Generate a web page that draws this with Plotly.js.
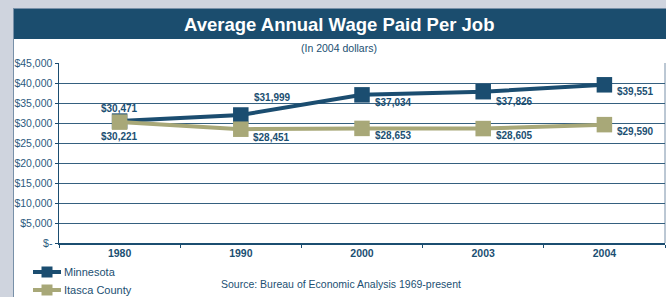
<!DOCTYPE html>
<html><head><meta charset="utf-8">
<script src="https://cdn.plot.ly/plotly-3.0.1.min.js"></script>
<style>html,body{margin:0;padding:0;background:#cfd4de;}#chart{width:666px;height:297px;}</style>
</head><body><div id="chart"></div>
<script>
var years = ["1980", "1990", "2000", "2003", "2004"];
var minnesota = [30471, 31999, 37034, 37826, 39551];
var itasca = [30221, 28451, 28653, 28605, 29590];
var seriesNames = ["Minnesota", "Itasca County"];
var yTickVals = [0, 5000, 10000, 15000, 20000, 25000, 30000, 35000, 40000, 45000];
var yTickText = ["$-", "$5,000", "$10,000", "$15,000", "$20,000", "$25,000", "$30,000", "$35,000", "$40,000", "$45,000"];
var titleText = "Average Annual Wage Paid Per Job";
var subtitleText = "(In 2004 dollars)";
var sourceText = "Source: Bureau of Economic Analysis 1969-present";

var DARK = "#1b4d70", OLIVE = "#a8a878", TXT = "#1b4f72";
var FONT = "Liberation Sans, Arial, sans-serif";
var COLORS = [DARK, OLIVE];
function fmt(v){ return "$" + v.toLocaleString("en-US"); }

// label offsets (pixels) per point
var mnOff = [[0, 13], [32, 18], [31, -8], [31, -10], [31, -7]];
var itOff = [[0, -14], [31, -8], [31, -7], [31, -7], [31, -7]];

var traces = [
  {x: years, y: minnesota, name: seriesNames[0], type: "scatter", mode: "lines+markers",
   line: {color: DARK, width: 4}, marker: {symbol: "square", size: 15.5, color: DARK}},
  {x: years, y: itasca, name: seriesNames[1], type: "scatter", mode: "lines+markers",
   line: {color: OLIVE, width: 4}, marker: {symbol: "square", size: 15.5, color: OLIVE}}
];

var ann = [];
function addLabels(vals, offs){
  vals.forEach(function(v, i){
    ann.push({x: i, y: v, xref: "x", yref: "y", text: fmt(v), showarrow: false,
      xshift: offs[i][0], yshift: offs[i][1],
      font: {family: FONT, size: 10, color: TXT, weight: "bold"}});
  });
}
addLabels(minnesota, mnOff);
addLabels(itasca, itOff);

function px(x){ return (x - 59) / 606; }
function py(y){ return (243 - y) / 180; }

ann.push({xref: "paper", yref: "paper", x: px(339), y: py(24), text: titleText, showarrow: false,
  xanchor: "center", yanchor: "middle", font: {family: FONT, size: 18.5, color: "#ffffff", weight: "bold"}});
ann.push({xref: "paper", yref: "paper", x: px(339), y: py(48), text: subtitleText, showarrow: false,
  xanchor: "center", yanchor: "middle", font: {family: FONT, size: 10.5, color: TXT}});
ann.push({xref: "paper", yref: "paper", x: px(341), y: py(284), text: sourceText, showarrow: false,
  xanchor: "center", yanchor: "middle", font: {family: FONT, size: 10.5, color: TXT}});

var shapes = [
  {type: "rect", xref: "paper", yref: "paper", x0: px(13), x1: px(667), y0: py(298), y1: py(9),
   fillcolor: "#ffffff", line: {width: 0}, layer: "below"},
  {type: "rect", xref: "paper", yref: "paper", x0: px(13), x1: px(667), y0: py(39), y1: py(9),
   fillcolor: "#1b4d6e", line: {width: 0}, layer: "below"},
  {type: "line", xref: "paper", yref: "paper", x0: px(13.5), x1: px(13.5), y0: py(298), y1: py(9),
   line: {color: "#7890a8", width: 1}, layer: "below"},
  {type: "line", xref: "paper", yref: "paper", x0: px(13), x1: px(667), y0: py(8.5), y1: py(8.5),
   line: {color: "#7890a8", width: 1}, layer: "below"},
  {type: "line", xref: "paper", yref: "paper", x0: 1, x1: 1, y0: 0, y1: 1,
   line: {color: "#7890a8", width: 1}, layer: "below"}
];

// custom legend
var legY = [272, 290];
seriesNames.forEach(function(name, k){
  shapes.push({type: "line", xref: "paper", yref: "paper", x0: px(33), x1: px(61), y0: py(legY[k]), y1: py(legY[k]),
    line: {color: COLORS[k], width: 4}});
  shapes.push({type: "rect", xref: "paper", yref: "paper", x0: px(41.5), x1: px(52.5), y0: py(legY[k] + 5.5), y1: py(legY[k] - 5.5),
    fillcolor: COLORS[k], line: {width: 0}});
  ann.push({xref: "paper", yref: "paper", x: px(62), y: py(legY[k]), text: name, showarrow: false,
    xanchor: "left", yanchor: "middle", font: {family: FONT, size: 11, color: TXT}});
});

var layout = {
  width: 666, height: 297,
  margin: {l: 59, r: 1, t: 63, b: 54},
  paper_bgcolor: "#cfd4de", plot_bgcolor: "rgba(0,0,0,0)",
  showlegend: false,
  xaxis: {type: "category", categoryorder: "array", categoryarray: years, range: [-0.5, 4.5], autorange: false,
    showgrid: false, showline: true, linecolor: DARK, linewidth: 1.5,
    ticks: "outside", tickson: "boundaries", ticklen: 3, tickcolor: DARK, tickangle: 0,
    tickfont: {family: FONT, size: 10.5, color: TXT, weight: "bold"}, fixedrange: true},
  yaxis: {range: [0, 45000], autorange: false, tickvals: yTickVals, ticktext: yTickText,
    showgrid: true, gridcolor: "#35607f", gridwidth: 1,
    showline: true, linecolor: DARK, linewidth: 1.5,
    ticks: "outside", ticklen: 3, tickcolor: DARK, zeroline: false,
    tickfont: {family: FONT, size: 10.5, color: "#2b5a7e"}, fixedrange: true},
  annotations: ann,
  shapes: shapes,
  font: {family: FONT}
};

Plotly.newPlot("chart", traces, layout, {displayModeBar: false, staticPlot: true});
</script>
</body></html>
